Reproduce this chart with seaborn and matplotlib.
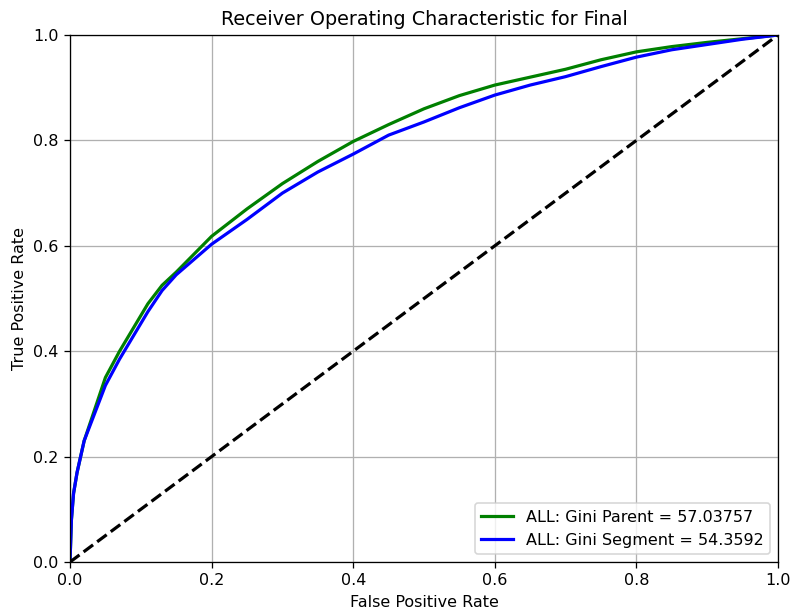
import numpy as np
import pandas as pd
import matplotlib
matplotlib.use("Agg")
import matplotlib.pyplot as plt
import seaborn as sns

# values
fpr = [0, 0.002, 0.005, 0.01, 0.02, 0.03, 0.04, 0.05, 0.07, 0.09, 0.11, 0.13, 0.15,
       0.2, 0.25, 0.3, 0.35, 0.4, 0.45, 0.5, 0.55, 0.6, 0.65, 0.7, 0.75, 0.8, 0.85,
       0.9, 0.95, 1.0]
tpr_parent = [0, 0.08, 0.13, 0.17, 0.23, 0.27, 0.31, 0.35, 0.40, 0.445, 0.49, 0.525,
              0.55, 0.618, 0.67, 0.718, 0.76, 0.798, 0.83, 0.86, 0.885, 0.905, 0.92,
              0.935, 0.953, 0.968, 0.978, 0.986, 0.993, 1.0]
tpr_segment = [0, 0.08, 0.13, 0.17, 0.23, 0.265, 0.30, 0.335, 0.385, 0.43, 0.475,
               0.515, 0.545, 0.603, 0.65, 0.70, 0.74, 0.774, 0.81, 0.835, 0.862,
               0.886, 0.905, 0.921, 0.94, 0.958, 0.972, 0.982, 0.992, 1.0]
gini_parent = "57.03757"
gini_segment = "54.3592"

# reference looks like a default figure rendered at ~115 dpi
fig, ax = plt.subplots(figsize=(792 / 115, 612 / 115), dpi=115)

sns.lineplot(x=fpr, y=tpr_parent, ax=ax, color="green", lw=2, estimator=None,
             label="ALL: Gini Parent = " + gini_parent)
sns.lineplot(x=fpr, y=tpr_segment, ax=ax, color="blue", lw=2, estimator=None,
             label="ALL: Gini Segment = " + gini_segment)
ax.plot([0, 1], [0, 1], "k--", lw=2)

ax.set_xlim(0, 1)
ax.set_ylim(0, 1)
ax.set_xlabel("False Positive Rate")
ax.set_ylabel("True Positive Rate")
ax.set_title("Receiver Operating Characteristic for Final")
ax.grid(True)
ax.legend(loc="lower right")

fig.subplots_adjust(left=70 / 792, right=778 / 792, top=1 - 35 / 612, bottom=1 - 562 / 612)
fig.savefig("out.png", dpi=115)
